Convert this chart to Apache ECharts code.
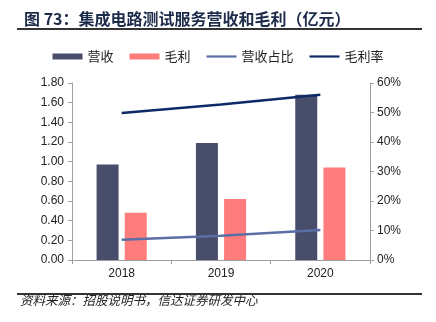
<!DOCTYPE html>
<html><head><meta charset="utf-8">
<script src="https://cdn.jsdelivr.net/npm/echarts@6/dist/echarts.min.js"></script>
<style>html,body{margin:0;padding:0;background:#fff}#c{width:436px;height:322px}</style>
</head><body><div id="c"></div>
<script>
const categories = ['2018', '2019', '2020'];
const revenue = [0.97, 1.19, 1.68];
const grossProfit = [0.48, 0.62, 0.94];
const revenueShare = [6.9, 8.2, 10.2];
const grossMargin = [49.8, 52.7, 56.0];
const leftTicks = [0, 1.8, 0.2];
const rightTicks = [0, 60, 10];

const chart = echarts.init(document.getElementById('c'), null, {renderer: 'canvas'});
const latin = 'Liberation Sans, Arial, sans-serif';
const cjk = '"Noto Sans CJK SC", sans-serif';
const lineIcon = 'path://M0,0 L30,0 L30,2.2 L0,2.2 Z';
chart.setOption({
  animation: false,
  textStyle: {fontFamily: cjk},
  title: {
    text: '图 73：集成电路测试服务营收和毛利（亿元）',
    left: 19, top: 6,
    textStyle: {fontSize: 16, fontWeight: 'bold', color: '#1c2b4a', fontFamily: cjk}
  },
  graphic: [
    {type: 'rect', shape: {x: 17, y: 28, width: 405, height: 2}, style: {fill: '#333'}},
    {type: 'rect', shape: {x: 17, y: 293, width: 405, height: 2}, style: {fill: '#333'}},
    {type: 'text', left: 20, top: 294, style: {text: '资料来源：招股说明书，信达证券研发中心', font: 'italic 12.5px "Noto Sans CJK SC", sans-serif', fill: '#222'}}
  ],
  legend: {
    top: 45, left: 'center',
    itemWidth: 30, itemHeight: 6, itemGap: 16,
    textStyle: {fontSize: 13, color: '#222', fontFamily: cjk},
    data: [
      {name: '营收', icon: 'rect'},
      {name: '毛利', icon: 'rect'},
      {name: '营收占比', icon: lineIcon},
      {name: '毛利率', icon: lineIcon}
    ]
  },
  grid: {left: 72, right: 66, top: 83, bottom: 62},
  xAxis: {
    type: 'category', data: categories,
    axisLine: {lineStyle: {color: '#a0a0a0'}},
    axisTick: {show: true, length: 4, lineStyle: {color: '#a0a0a0'}},
    axisLabel: {fontSize: 12, color: '#222', fontFamily: latin, margin: 8}
  },
  yAxis: [
    {
      type: 'value', min: leftTicks[0], max: leftTicks[1], interval: leftTicks[2],
      axisLine: {show: true, lineStyle: {color: '#a0a0a0'}},
      axisTick: {show: true, length: 4, lineStyle: {color: '#a0a0a0'}},
      splitLine: {show: false},
      axisLabel: {fontSize: 12, color: '#222', fontFamily: latin, margin: 8, formatter: v => v.toFixed(2)}
    },
    {
      type: 'value', min: rightTicks[0], max: rightTicks[1], interval: rightTicks[2], position: 'right',
      axisLine: {show: true, lineStyle: {color: '#a0a0a0'}},
      axisTick: {show: true, length: 4, lineStyle: {color: '#a0a0a0'}},
      splitLine: {show: false},
      axisLabel: {fontSize: 12, color: '#222', fontFamily: latin, margin: 7, formatter: v => v + '%'}
    }
  ],
  series: [
    {name: '营收', type: 'bar', data: revenue, barWidth: 22, barGap: '28%', itemStyle: {color: '#474d6b'}},
    {name: '毛利', type: 'bar', data: grossProfit, barWidth: 22, itemStyle: {color: '#ff7c7c'}},
    {name: '营收占比', type: 'line', yAxisIndex: 1, data: revenueShare, symbol: 'none', lineStyle: {color: '#5b6ea6', width: 2.5}, itemStyle: {color: '#5b6ea6'}},
    {name: '毛利率', type: 'line', yAxisIndex: 1, data: grossMargin, symbol: 'none', lineStyle: {color: '#0c2a66', width: 2.5}, itemStyle: {color: '#0c2a66'}}
  ]
});
</script></body></html>
